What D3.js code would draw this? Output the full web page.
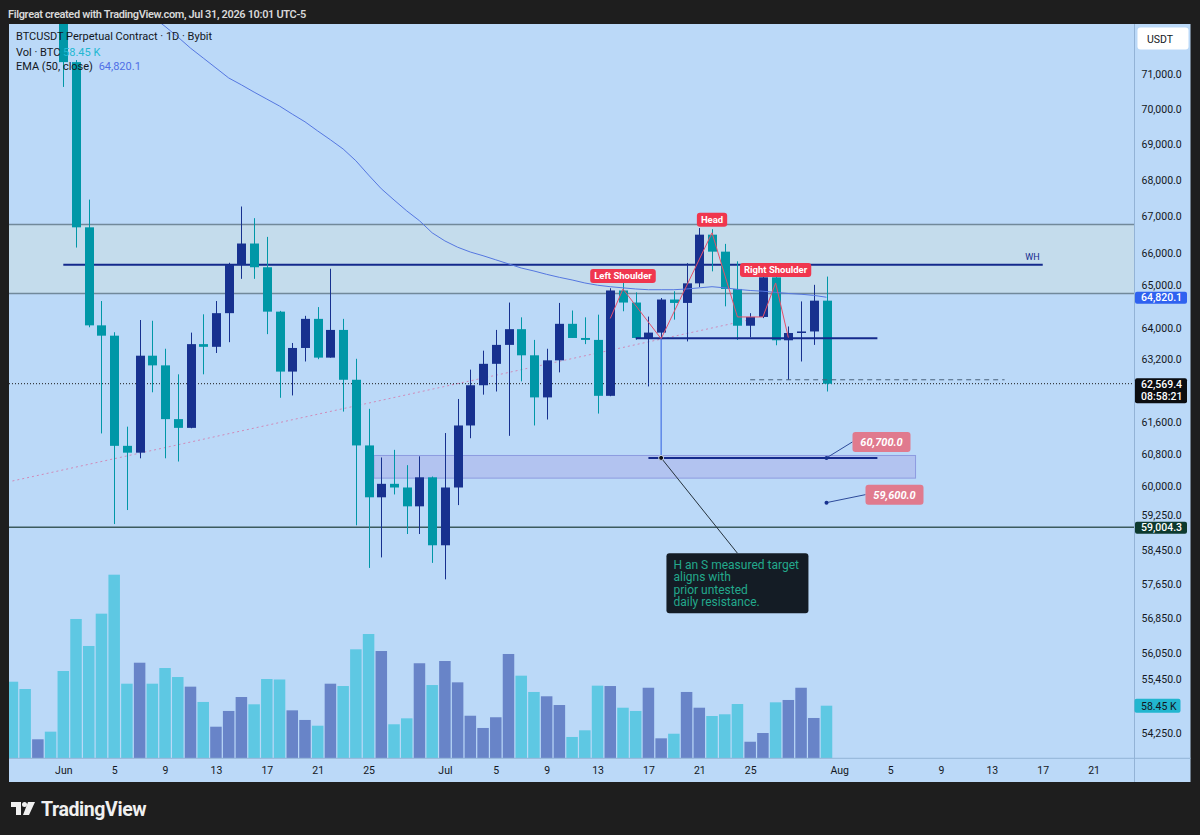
<!DOCTYPE html>
<html>
<head>
<meta charset="utf-8">
<script src="https://cdn.jsdelivr.net/npm/d3@7"></script>
<style>
  body { margin: 0; background: #1e1e1e; }
  svg { display: block; font-family: Roboto, "Liberation Sans", sans-serif; }
</style>
</head>
<body>
<script>
// ---------------- data ----------------
const firstDay = '2026-05-28';   // one candle per day, May 28 .. Jul 31
const opens  = [75200, 74300, 73600, 74100, 73500, 71360, 66700, 64080, 63810, 61000,
                60830, 63290, 63040, 61670, 61450, 63590, 63520, 64400, 65680, 66260,
                65620, 64440, 62880, 63490, 64250, 63240, 63960, 62670, 61010, 59730,
                60060, 59970, 59510, 60220, 58570, 59970, 61510, 62530, 63080, 63570,
                63980, 63300, 62220, 63170, 64120, 63750, 63700, 62260, 65000, 64680,
                63750, 63890, 64760, 64670, 65190, 66500, 66040, 65040, 64070, 64300,
                65350, 63690, 63880, 63920, 64730];
const highs  = [75600, 74600, 74400, 74300, 73700, 71420, 67460, 64720, 63900, 61480,
                64220, 64200, 63470, 62810, 63890, 64370, 64720, 65740, 67270, 66950,
                66440, 64460, 63620, 64330, 64560, 65580, 64250, 63210, 61930, 60710,
                60900, 60520, 60740, 60240, 61320, 62180, 62930, 63420, 63960, 64680,
                64290, 63700, 63470, 64670, 64470, 64290, 64360, 65060, 65280, 64950,
                64310, 64800, 64980, 65730, 66680, 66650, 66250, 65780, 64400, 65390,
                65480, 64050, 64710, 65150, 65370];
const lows   = [73900, 73200, 73300, 72900, 70640, 66150, 64030, 61310, 59080, 59420,
                60690, 62350, 60690, 60610, 61440, 62810, 63360, 63640, 65310, 65310,
                63850, 62210, 62270, 63140, 63200, 63240, 61860, 59050, 58030, 58280,
                59800, 58840, 58840, 58150, 57760, 59540, 61190, 62290, 62370, 61250,
                62630, 61510, 61660, 62860, 63750, 63590, 61810, 62250, 64450, 63700,
                62500, 63730, 64230, 63660, 65090, 65510, 64580, 63700, 63770, 64270,
                63560, 62670, 63140, 63570, 62370];
const closes = [74300, 73600, 74100, 73500, 71360, 66700, 64080, 63810, 61000, 60830,
                63290, 63040, 61670, 61450, 63590, 63520, 64400, 65680, 66260, 65620,
                64440, 62880, 63490, 64250, 63240, 63960, 62670, 61010, 59730, 60060,
                59970, 59510, 60220, 58570, 59970, 61510, 62530, 63080, 63570, 63980,
                63300, 62220, 63170, 64120, 63750, 63700, 62260, 65000, 64680, 63750,
                63890, 64760, 64670, 65190, 66500, 66040, 65040, 64070, 64300, 65350,
                63690, 63880, 63920, 64730, 62569.4];
// volume, thousands of BTC
const volumes = [85.1, 77.0, 21.1, 29.6, 97.0, 154.8, 124.8, 160.7, 204.0, 82.9,
                 106.2, 82.9, 100.3, 90.3, 79.6, 62.6, 35.1, 52.6, 68.1, 60.0,
                 88.1, 87.6, 53.3, 42.6, 36.2, 82.9, 80.3, 121.1, 138.1, 119.2,
                 37.8, 44.4, 105.6, 81.4, 108.1, 84.4, 47.3, 33.7, 45.6, 115.9,
                 91.8, 73.7, 68.9, 59.2, 23.7, 31.1, 80.7, 80.3, 56.2, 52.6,
                 78.4, 22.2, 27.3, 73.7, 56.2, 47.0, 48.9, 60.3, 18.4, 28.1,
                 62.2, 64.8, 78.4, 44.8, 58.45];

// EMA(50, close) as drawn, one value per day from Jun 8
const emaStart = '2026-06-08';
const emaValues = [72700, 72410, 72100, 71770, 71480, 71190, 70900, 70700, 70490, 70290,
                   70090, 69860, 69640, 69380, 69130, 68870, 68540, 68140, 67760, 67450,
                   67150, 66880, 66550, 66330, 66160, 66030, 65930, 65820, 65710, 65600,
                   65520, 65430, 65350, 65280, 65200, 65140, 65100, 65070, 65040, 65020,
                   65020, 65020, 65040, 65070, 65100, 65070, 65030, 65000, 64980, 64950,
                   64920, 64900, 64870, 64820.1];

const priceTicks = [71000, 70000, 69000, 68000, 67000, 66000, 65000, 64000, 63200, 61600,
                    60800, 60000, 59250, 58450, 57650, 56850, 56050, 55450, 54250];
const timeTicks = ['2026-06-01', '2026-06-05', '2026-06-09', '2026-06-13', '2026-06-17',
                   '2026-06-21', '2026-06-25', '2026-07-01', '2026-07-05', '2026-07-09',
                   '2026-07-13', '2026-07-17', '2026-07-21', '2026-07-25', '2026-08-01',
                   '2026-08-05', '2026-08-09', '2026-08-13', '2026-08-17', '2026-08-21'];
const timeTickLabels = ['Jun', '5', '9', '13', '17', '21', '25', 'Jul', '5', '9',
                        '13', '17', '21', '25', 'Aug', '5', '9', '13', '17', '21'];

// drawings
const lastPrice = 62569.4, lastEma = 64820.1, lastVol = 58.45;
const supportLevel = 59004.3;
const zone = [64922, 66778];
const weeklyHigh = ['2026-06-01', '2026-08-17', 65684];
const neckline = ['2026-07-16', '2026-08-04', 63742];
const dashedLevel = ['2026-07-25', '2026-08-14', 62670];
const trendPts = [['2026-05-28', 60130], ['2026-07-25', 64230]];
const hsPts = [['2026-07-14', 64260], ['2026-07-15', 65040], ['2026-07-18', 63730],
               ['2026-07-22', 66550], ['2026-07-24', 64300], ['2026-07-26', 64300],
               ['2026-07-27', 65200], ['2026-07-28', 63760]];
const hsLabels = [['Left Shoulder', '2026-07-15', 65040], ['Head', '2026-07-22', 66550],
                  ['Right Shoulder', '2026-07-27', 65200]];
const measure = ['2026-07-18', 63730, 60700];
const targetLine = ['2026-07-17', '2026-08-04', 60700];
const targetZone = ['2026-06-25T10:00', '2026-08-07', 60200, 60760];
const priceNotes = [['2026-07-31', 60700, '60,700.0', 26, -16], ['2026-07-31', 59600, '59,600.0', 39, -8]];
const noteAnchor = ['2026-07-18T10:00', 58380];
const noteLines = ['H an S measured target', 'aligns with', 'prior untested', 'daily resistance.'];

// ---------------- scales ----------------
const parse = (s) => new Date(s + (s.length > 10 ? ':00Z' : 'T00:00:00Z'));
const days = d3.range(opens.length).map((i) => d3.utcDay.offset(parse(firstDay), i));
const pane = { left: 9, top: 24, right: 1134.5, bottom: 758.3 };
const axisEdge = 1190.5, timeBottom = 782;
const dayW = 12.72;

const x = d3.scaleUtc()
    .domain([parse('2026-06-01'), parse('2026-08-21')])
    .range([63.3, 63.3 + 81 * dayW]);
const y = d3.scaleLog().domain([54250, 71000]).range([732.7, 74.5]);
const yVol = d3.scaleLinear().domain([0, 100]).range([pane.bottom, pane.bottom - 90]);
const fmt = d3.format(',.1f');

const colUp = '#17318f', colDown = '#0097a7';
const volUp = '#6884c8', volDown = '#5ec8e3';

// ---------------- frame ----------------
const svg = d3.select('body').append('svg').attr('width', 1200).attr('height', 835);
svg.append('rect').attr('width', 1200).attr('height', 835).attr('fill', '#1e1e1e');
svg.append('text').attr('x', 8).attr('y', 17.5)
    .attr('fill', '#d8d8d8').attr('font-size', 11).attr('font-weight', 600)
    .attr('letter-spacing', -0.35)
    .text('Filgreat created with TradingView.com, Jul 31, 2026 10:01 UTC-5');

svg.append('rect')
    .attr('x', pane.left).attr('y', pane.top)
    .attr('width', axisEdge - pane.left).attr('height', timeBottom - pane.top)
    .attr('fill', '#bbd9f8');
svg.append('defs').append('clipPath').attr('id', 'pane').append('rect')
    .attr('x', pane.left).attr('y', pane.top)
    .attr('width', pane.right - pane.left).attr('height', pane.bottom - pane.top);

const plot = svg.append('g').attr('clip-path', 'url(#pane)');

// grey zone
plot.append('rect')
    .attr('x', pane.left).attr('width', pane.right - pane.left)
    .attr('y', y(zone[1])).attr('height', y(zone[0]) - y(zone[1]))
    .attr('fill', '#c4dcec');
zone.forEach((p) => {
    plot.append('line').attr('x1', pane.left).attr('x2', pane.right)
        .attr('y1', y(p)).attr('y2', y(p))
        .attr('stroke', '#71899a').attr('stroke-width', 1.5);
});

// target zone box
plot.append('rect')
    .attr('x', x(parse(targetZone[0]))).attr('width', x(parse(targetZone[1])) - x(parse(targetZone[0])))
    .attr('y', y(targetZone[3])).attr('height', y(targetZone[2]) - y(targetZone[3]))
    .attr('fill', '#b2c3f0').attr('stroke', '#8d9be0').attr('stroke-width', 1);

// support line
plot.append('line').attr('x1', pane.left).attr('x2', pane.right)
    .attr('y1', y(supportLevel)).attr('y2', y(supportLevel))
    .attr('stroke', '#3b5b5e').attr('stroke-width', 1.5);

// rising dotted trend
plot.append('line')
    .attr('x1', x(parse(trendPts[0][0]))).attr('y1', y(trendPts[0][1]))
    .attr('x2', x(parse(trendPts[1][0]))).attr('y2', y(trendPts[1][1]))
    .attr('stroke', '#d08ab8').attr('stroke-width', 1).attr('stroke-dasharray', '2,3');

// weekly high
plot.append('line')
    .attr('x1', x(parse(weeklyHigh[0]))).attr('x2', x(parse(weeklyHigh[1])))
    .attr('y1', y(weeklyHigh[2])).attr('y2', y(weeklyHigh[2]))
    .attr('stroke', '#142a8c').attr('stroke-width', 2);
plot.append('text')
    .attr('x', x(parse(weeklyHigh[1])) - 3).attr('y', y(weeklyHigh[2]) - 5)
    .attr('text-anchor', 'end').attr('font-size', 9).attr('fill', '#142a8c').text('WH');

// current price dotted line
plot.append('line').attr('x1', pane.left).attr('x2', pane.right)
    .attr('y1', y(lastPrice)).attr('y2', y(lastPrice))
    .attr('stroke', '#1b1b1b').attr('stroke-width', 1).attr('stroke-dasharray', '1,2');

// volume
plot.append('g').selectAll('rect').data(days).join('rect')
    .attr('x', (d) => x(d) - 5.75).attr('width', 11.5)
    .attr('y', (d, i) => yVol(volumes[i]))
    .attr('height', (d, i) => pane.bottom - yVol(volumes[i]))
    .attr('fill', (d, i) => closes[i] >= opens[i] ? volUp : volDown);

// candles
const candles = plot.append('g').selectAll('g').data(days).join('g');
candles.append('line')
    .attr('x1', (d) => Math.round(x(d)) + 0.5).attr('x2', (d) => Math.round(x(d)) + 0.5)
    .attr('y1', (d, i) => y(highs[i])).attr('y2', (d, i) => y(lows[i]))
    .attr('stroke', (d, i) => closes[i] >= opens[i] ? colUp : colDown).attr('stroke-width', 1);
candles.append('rect')
    .attr('x', (d) => Math.round(x(d)) - 4).attr('width', 9)
    .attr('y', (d, i) => y(Math.max(opens[i], closes[i])))
    .attr('height', (d, i) => Math.max(1, Math.abs(y(opens[i]) - y(closes[i]))))
    .attr('fill', (d, i) => closes[i] >= opens[i] ? colUp : colDown);

// EMA
const emaDays = emaValues.map((v, i) => d3.utcDay.offset(parse(emaStart), i));
plot.append('path')
    .datum(emaValues)
    .attr('fill', 'none').attr('stroke', '#5577e0').attr('stroke-width', 1)
    .attr('d', d3.line().x((v, i) => x(emaDays[i])).y((v) => y(v)));

// dashed level
plot.append('line')
    .attr('x1', x(parse(dashedLevel[0]))).attr('x2', x(parse(dashedLevel[1])))
    .attr('y1', y(dashedLevel[2])).attr('y2', y(dashedLevel[2]))
    .attr('stroke', '#47607a').attr('stroke-width', 1).attr('stroke-dasharray', '5,4');

// neckline
plot.append('line')
    .attr('x1', x(parse(neckline[0]))).attr('x2', x(parse(neckline[1])))
    .attr('y1', y(neckline[2])).attr('y2', y(neckline[2]))
    .attr('stroke', '#142a8c').attr('stroke-width', 2);

// head & shoulders path
plot.append('path')
    .datum(hsPts)
    .attr('fill', 'none').attr('stroke', '#e5506a').attr('stroke-width', 1)
    .attr('d', d3.line().x((d) => x(parse(d[0]))).y((d) => y(d[1])));

// measured move
plot.append('line')
    .attr('x1', x(parse(measure[0]))).attr('x2', x(parse(measure[0])))
    .attr('y1', y(measure[1])).attr('y2', y(measure[2]))
    .attr('stroke', '#2f5fe0').attr('stroke-width', 1);
plot.append('line')
    .attr('x1', x(parse(targetLine[0]))).attr('x2', x(parse(targetLine[1])))
    .attr('y1', y(targetLine[2])).attr('y2', y(targetLine[2]))
    .attr('stroke', '#142a8c').attr('stroke-width', 2);

// callout
const ax = x(parse(measure[0])), ay = y(measure[2]);
const bx = x(parse(noteAnchor[0])), by = y(noteAnchor[1]);
const bw = 142, bh = 60;
plot.append('line').attr('x1', ax).attr('y1', ay).attr('x2', bx + bw / 2).attr('y2', by)
    .attr('stroke', '#26323c').attr('stroke-width', 1);
plot.append('circle').attr('cx', ax).attr('cy', ay).attr('r', 2.5)
    .attr('fill', '#111').attr('stroke', '#d0dcf5').attr('stroke-width', 1);
plot.append('rect').attr('x', bx).attr('y', by).attr('width', bw).attr('height', bh)
    .attr('rx', 3).attr('fill', '#141c25');
plot.append('g').selectAll('text').data(noteLines).join('text')
    .attr('x', bx + 7).attr('y', (d, i) => by + 16 + i * 12.2)
    .attr('font-size', 12).attr('fill', '#23a98c').text((d) => d);

// price notes (60,700 / 59,600)
priceNotes.forEach(([dt, p, label, dx, dy]) => {
    const px = x(parse(dt)), py = y(p);
    const tx = px + dx, ty = py + dy;
    plot.append('line').attr('x1', px).attr('y1', py).attr('x2', tx).attr('y2', ty)
        .attr('stroke', '#2d4a9a').attr('stroke-width', 1);
    plot.append('circle').attr('cx', px).attr('cy', py).attr('r', 2).attr('fill', '#17318f');
    plot.append('rect').attr('x', tx).attr('y', ty - 10).attr('width', 58).attr('height', 20)
        .attr('rx', 3).attr('fill', '#e07a8e');
    plot.append('text').attr('x', tx + 29).attr('y', ty + 4)
        .attr('text-anchor', 'middle').attr('font-size', 11).attr('font-weight', 700)
        .attr('font-style', 'italic').attr('fill', '#fff').text(label);
});

// H&S labels
hsLabels.forEach(([label, dt, p]) => {
    const cx = x(parse(dt)), cy = y(p) - 13;
    const t = plot.append('text').attr('x', cx).attr('y', cy + 3.5)
        .attr('text-anchor', 'middle').attr('font-size', 9.5).attr('font-weight', 700)
        .attr('fill', '#fff').text(label);
    const w = t.node().getComputedTextLength() + 8;
    plot.insert('rect', () => t.node())
        .attr('x', cx - w / 2).attr('y', cy - 7).attr('width', w).attr('height', 14)
        .attr('rx', 3).attr('fill', '#f0364e');
});

// ---------------- axes ----------------
svg.append('line').attr('x1', pane.right).attr('x2', pane.right)
    .attr('y1', pane.top).attr('y2', timeBottom).attr('stroke', '#93b3d6');
svg.append('line').attr('x1', pane.left).attr('x2', axisEdge)
    .attr('y1', pane.bottom).attr('y2', pane.bottom).attr('stroke', '#93b3d6');

const yAxis = svg.append('g').attr('transform', `translate(${pane.right},0)`)
    .call(d3.axisRight(y).tickValues(priceTicks).tickFormat(fmt).tickSize(0).tickPadding(7));
yAxis.select('.domain').remove();
yAxis.selectAll('text').attr('font-size', 10.5).attr('fill', '#131722')
    .attr('font-family', 'Roboto, "Liberation Sans", sans-serif');
// labels pushed up a little where a price tag sits just below them
yAxis.selectAll('.tick').filter((d) => d === 65000).select('text').attr('dy', '-0.15em');
yAxis.selectAll('.tick').filter((d) => d === 59250).select('text').attr('dy', '0.1em');

const xAxis = svg.append('g').attr('transform', `translate(0,${pane.bottom})`)
    .call(d3.axisBottom(x).tickValues(timeTicks.map(parse))
        .tickFormat((d, i) => timeTickLabels[i]).tickSize(0).tickPadding(8));
xAxis.select('.domain').remove();
xAxis.selectAll('text').attr('font-size', 10.5).attr('fill', '#131722')
    .attr('font-family', 'Roboto, "Liberation Sans", sans-serif');

// USDT box
svg.append('rect').attr('x', 1137.5).attr('y', 27.5).attr('width', 51).attr('height', 22)
    .attr('rx', 3).attr('fill', '#ffffff');
svg.append('text').attr('x', 1147).attr('y', 42.5).attr('font-size', 10.5)
    .attr('fill', '#131722').text('USDT');

// axis price labels
function axisLabel(p, lines, fill, color, w) {
    const cy = y(p);
    const h = lines.length > 1 ? 25 : 12;
    svg.append('rect').attr('x', pane.right + 0.5).attr('y', cy - 5.5)
        .attr('width', w).attr('height', h).attr('rx', 2).attr('fill', fill);
    lines.forEach((t, i) => {
        svg.append('text').attr('x', 1141).attr('y', cy + 4 + i * 12)
            .attr('font-size', 10.5).attr('font-weight', 500).attr('fill', color).text(t);
    });
}
axisLabel(lastEma, [fmt(lastEma)], '#2f62f0', '#ffffff', 52);
axisLabel(lastPrice, [fmt(lastPrice), '08:58:21'], '#0b0d10', '#ffffff', 52);
axisLabel(supportLevel, [fmt(supportLevel)], '#0d3a2f', '#ffffff', 52);
svg.append('rect').attr('x', pane.right).attr('y', yVol(lastVol) - 7)
    .attr('width', 46).attr('height', 14).attr('rx', 2).attr('fill', '#22b6cf');
svg.append('text').attr('x', 1141).attr('y', yVol(lastVol) + 4)
    .attr('font-size', 10.5).attr('fill', '#131722').text(`${lastVol} K`);

// ---------------- legend ----------------
const legend = svg.append('g').attr('font-size', 11).attr('fill', '#131722');
legend.append('text').attr('x', 16).attr('y', 40).text('BTCUSDT Perpetual Contract · 1D · Bybit');
const l2 = legend.append('text').attr('x', 16).attr('y', 55.5);
l2.append('tspan').text('Vol · BTC ');
l2.append('tspan').attr('fill', '#22b8d2').text(`${lastVol} K`);
const l3 = legend.append('text').attr('x', 16).attr('y', 70);
l3.append('tspan').text('EMA (50, close) ');
l3.append('tspan').attr('fill', '#4f6fe6').attr('dx', 3).text(fmt(lastEma));

// ---------------- logo ----------------
const logo = svg.append('g').attr('fill', '#f0f0f0');
logo.append('path').attr('d', 'M11,802 h10 v13 h-5 v-8 h-5 z');
logo.append('circle').attr('cx', 24.5).attr('cy', 804.5).attr('r', 2.5);
logo.append('path').attr('d', 'M28,802 h7 l-6,13 h-6 z');
logo.append('text').attr('x', 41).attr('y', 816).attr('font-size', 19.5).attr('font-weight', 700)
    .attr('letter-spacing', -0.4).text('TradingView');
</script>
</body>
</html>
